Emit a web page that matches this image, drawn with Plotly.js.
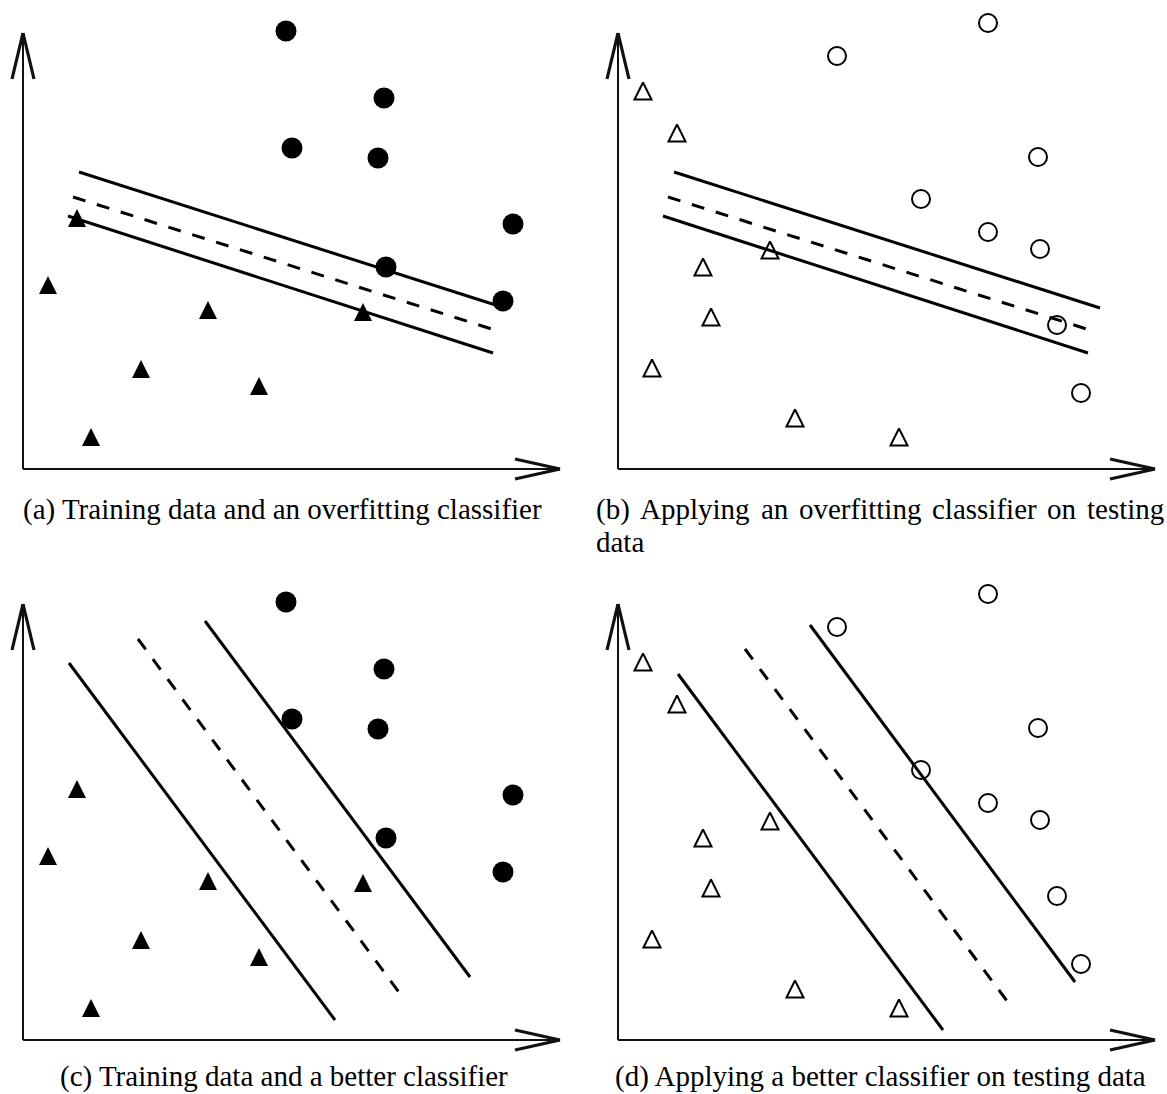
<!DOCTYPE html>
<html>
<head>
<meta charset="utf-8">
<script src="https://cdn.plot.ly/plotly-3.0.1.min.js"></script>
<style>html,body{margin:0;padding:0;background:#fff;}#chart{width:1167px;height:1094px;}</style>
</head>
<body>
<div id="chart"></div>
<script>
// ---- data (panel-local units, origin at the axes corner) ----
const trainCircleX = [263, 361, 269, 355, 490, 363, 480];
const trainCircleY = [438, 371, 321, 311, 245, 202, 168];
const trainTriX = [25, 54, 185, 118, 236, 68, 340];
const trainTriY = [184, 251, 159, 100, 83, 32, 157];

const testCircleX = [219, 370, 420, 303, 370, 422, 439, 463];
const testCircleY = [413, 446, 312, 270, 237, 220, 144, 76];
const testTriX = [25, 59, 152, 85, 93, 34, 177, 281];
const testTriY = [378, 336, 219, 202, 152, 101, 51, 32];

// overfitting classifier (margin, boundary, margin)
const overfitUpperX = [56, 482], overfitUpperY = [297, 161];
const overfitMidX = [50, 475], overfitMidY = [272, 138];
const overfitLowerX = [45, 470], overfitLowerY = [253, 116];

// better classifier as drawn in (c)
const betterCLeftX = [46, 312], betterCLeftY = [377, 20];
const betterCMidX = [115, 378], betterCMidY = [401, 45];
const betterCRightX = [182, 447], betterCRightY = [419, 63];

// better classifier as drawn in (d)
const betterDLeftX = [60, 325], betterDLeftY = [366, 10];
const betterDMidX = [127, 392], betterDMidY = [391, 35];
const betterDRightX = [192, 457], betterDRightY = [415, 58];

const captionA = "(a) Training data and an overfitting classifier";
const captionB1 = ["(b)", "Applying", "an", "overfitting", "classifier", "on", "testing"];
const captionB2 = "data";
const captionC = "(c) Training data and a better classifier";
const captionD = "(d) Applying a better classifier on testing data";

// ---- layout ----
const W = 1167, H = 1094;
const panels = [
  {s: '',  ox: 23,  oy: 469,  l: 0,   r: 583,  t: 0,   b: 490},
  {s: '2', ox: 618, oy: 469,  l: 583, r: 1167, t: 0,   b: 490},
  {s: '3', ox: 23,  oy: 1040, l: 0,   r: 583,  t: 560, b: 1060},
  {s: '4', ox: 618, oy: 1040, l: 583, r: 1167, t: 560, b: 1060}
];

const layout = {
  width: W, height: H,
  margin: {l: 0, r: 0, t: 0, b: 0},
  paper_bgcolor: '#fff', plot_bgcolor: 'rgba(0,0,0,0)',
  showlegend: false,
  shapes: [], annotations: []
};

const traces = [];
const FAMILY = 'Liberation Serif';

panels.forEach(p => {
  layout['xaxis' + p.s] = {domain: [p.l / W, p.r / W], range: [p.l - p.ox, p.r - p.ox],
    visible: false, fixedrange: true};
  layout['yaxis' + p.s] = {domain: [1 - p.b / H, 1 - p.t / H], range: [p.oy - p.b, p.oy - p.t],
    visible: false, fixedrange: true};
  const xr = 'x' + p.s, yr = 'y' + p.s;
  const seg = (x0, y0, x1, y1, w) => layout.shapes.push({type: 'line', xref: xr, yref: yr,
    x0, y0, x1, y1, line: {color: '#111', width: w}});
  // axes with open arrowheads
  seg(0, 0, 537, 0, 2);
  seg(0, 0, 0, 436, 2);
  seg(537, 0, 492, 10, 3.2);
  seg(537, 0, 492, -10, 3.2);
  seg(0, 436, -11, 390, 3.2);
  seg(0, 436, 11, 390, 3.2);
});

function lineTrace(ax, ay, x, y, dashed) {
  traces.push({type: 'scatter', mode: 'lines', xaxis: ax, yaxis: ay, x, y,
    line: {color: '#000', width: 3, dash: dashed ? '13px,12px' : 'solid'}, hoverinfo: 'skip'});
}
function circleTrace(ax, ay, x, y, filled) {
  traces.push({type: 'scatter', mode: 'markers', xaxis: ax, yaxis: ay, x, y,
    marker: filled ? {symbol: 'circle', size: 21, color: '#000', line: {width: 0}}
                   : {symbol: 'circle-open', size: 18, color: '#000', line: {width: 2, color: '#000'}},
    hoverinfo: 'skip'});
}
// 'arrow-up' is anchored at its apex; one axis unit = one pixel, so the
// apex sits half the marker height above the triangle's centre.
function triTrace(ax, ay, x, y, filled) {
  const size = filled ? 18 : 17;
  const yApex = y.map(v => v + size / 2);
  traces.push({type: 'scatter', mode: 'markers', xaxis: ax, yaxis: ay, x, y: yApex,
    marker: filled ? {symbol: 'arrow-up', size, color: '#000', line: {width: 0}}
                   : {symbol: 'arrow-up-open', size, color: '#000', line: {width: 2, color: '#000'}},
    hoverinfo: 'skip'});
}

// (a) training data + overfitting classifier
lineTrace('x', 'y', overfitUpperX, overfitUpperY, false);
lineTrace('x', 'y', overfitMidX, overfitMidY, true);
lineTrace('x', 'y', overfitLowerX, overfitLowerY, false);
circleTrace('x', 'y', trainCircleX, trainCircleY, true);
triTrace('x', 'y', trainTriX, trainTriY, true);

// (b) testing data + overfitting classifier
lineTrace('x2', 'y2', overfitUpperX, overfitUpperY, false);
lineTrace('x2', 'y2', overfitMidX, overfitMidY, true);
lineTrace('x2', 'y2', overfitLowerX, overfitLowerY, false);
circleTrace('x2', 'y2', testCircleX, testCircleY, false);
triTrace('x2', 'y2', testTriX, testTriY, false);

// (c) training data + better classifier
lineTrace('x3', 'y3', betterCLeftX, betterCLeftY, false);
lineTrace('x3', 'y3', betterCMidX, betterCMidY, true);
lineTrace('x3', 'y3', betterCRightX, betterCRightY, false);
circleTrace('x3', 'y3', trainCircleX, trainCircleY, true);
triTrace('x3', 'y3', trainTriX, trainTriY, true);

// (d) testing data + better classifier
lineTrace('x4', 'y4', betterDLeftX, betterDLeftY, false);
lineTrace('x4', 'y4', betterDMidX, betterDMidY, true);
lineTrace('x4', 'y4', betterDRightX, betterDRightY, false);
circleTrace('x4', 'y4', testCircleX, testCircleY, false);
triTrace('x4', 'y4', testTriX, testTriY, false);

// captions
const CAP_SIZE = 29;
const ctx = document.createElement('canvas').getContext('2d');
function textWidth(t, size) { ctx.font = size + 'px "' + FAMILY + '"'; return ctx.measureText(t).width; }
function cap(text, px, py, anchor) {
  layout.annotations.push({xref: 'paper', yref: 'paper', x: px / W, y: 1 - py / H,
    xanchor: anchor || 'left', yanchor: 'middle', text, showarrow: false,
    font: {family: FAMILY, size: CAP_SIZE, color: '#000'}});
}
cap(captionA, 282, 509, 'center');
cap(captionC, 284, 1076, 'center');
cap(captionD, 880, 1076, 'center');
// (b) first line is justified between x=594 and x=1162
(function () {
  const left = 594, right = 1162;
  const widths = captionB1.map(w => textWidth(w, CAP_SIZE));
  const total = widths.reduce((a, b) => a + b, 0);
  const gap = (right - left - total) / (captionB1.length - 1);
  let x = left;
  captionB1.forEach((w, i) => { cap(w, x, 509); x += widths[i] + gap; });
})();
cap(captionB2, 594, 542);

Plotly.newPlot('chart', traces, layout, {staticPlot: true, displayModeBar: false});
</script>
</body>
</html>
